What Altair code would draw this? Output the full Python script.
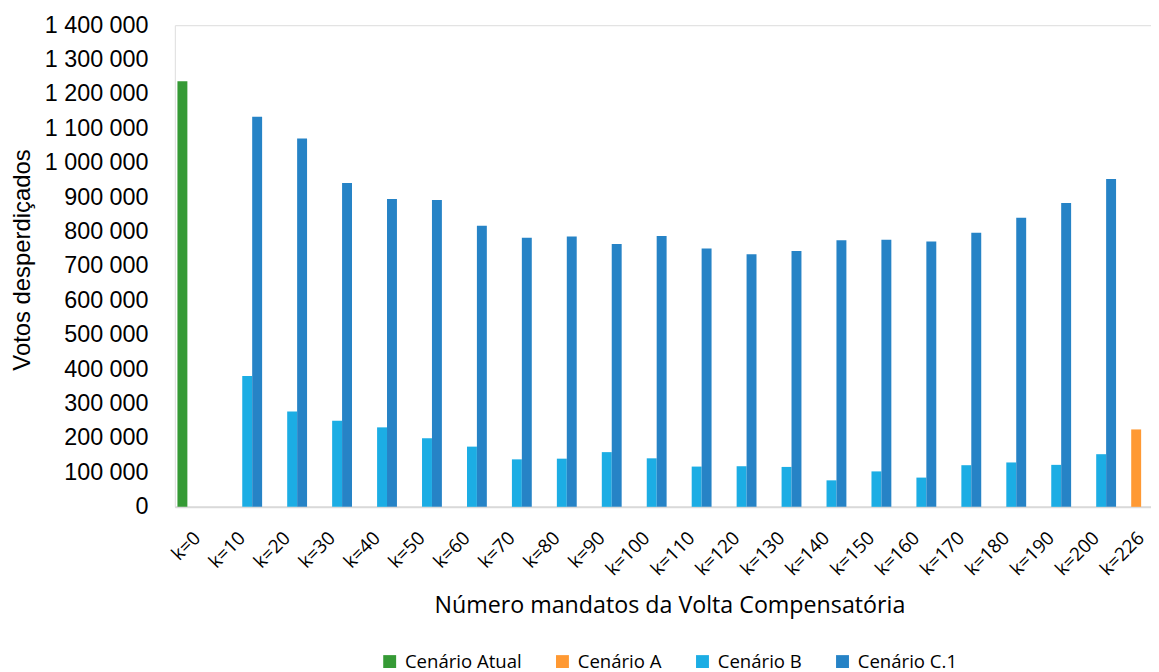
import altair as alt
import pandas as pd

# ---- data ----
categories = ["k=0", "k=10", "k=20", "k=30", "k=40", "k=50", "k=60", "k=70", "k=80",
              "k=90", "k=100", "k=110", "k=120", "k=130", "k=140", "k=150", "k=160",
              "k=170", "k=180", "k=190", "k=200", "k=226"]
series_names = ["Cenário Atual", "Cenário A", "Cenário B", "Cenário C.1"]
series_colors = ["#359A35", "#FF9933", "#1CADE4", "#2683C6"]

atual_category = ["k=0"]
atual_values = [1237000]

a_category = ["k=226"]
a_values = [225000]

bc_categories = categories[1:21]
b_values = [380000, 277000, 250000, 231000, 199000, 175000, 138000, 140000, 159000, 141000,
            117000, 118000, 116000, 77000, 103000, 85000, 121000, 129000, 122000, 153000]
c1_values = [1134000, 1071000, 941000, 895000, 892000, 817000, 782000, 786000, 764000, 787000,
             751000, 734000, 744000, 775000, 776000, 771000, 797000, 840000, 883000, 953000]

y_ticks = [0, 100000, 200000, 300000, 400000, 500000, 600000, 700000, 800000, 900000,
           1000000, 1100000, 1200000, 1300000, 1400000]

rows = []
for c, v in zip(atual_category, atual_values):
    rows.append({"category": c, "series": "Cenário Atual", "value": v})
for c, v in zip(a_category, a_values):
    rows.append({"category": c, "series": "Cenário A", "value": v})
for c, v in zip(bc_categories, b_values):
    rows.append({"category": c, "series": "Cenário B", "value": v})
for c, v in zip(bc_categories, c1_values):
    rows.append({"category": c, "series": "Cenário C.1", "value": v})
df = pd.DataFrame(rows)

title_font = "Open Sans"
num_font = "Liberation Sans"

chart = alt.Chart(df).mark_bar().encode(
    x=alt.X(
        "category:N",
        sort=categories,
        scale=alt.Scale(domain=categories, range=[0, 995.7], paddingInner=0.116, paddingOuter=0.058),
        axis=alt.Axis(
            title="Número mandatos da Volta Compensatória",
            labelAngle=-45,
            labelAlign="right",
            labelBaseline="middle",
            labelPadding=28,
            labelFont=title_font,
            labelFontSize=19,
            labelColor="#000000",
            ticks=False,
            tickSize=0,
            domainColor="#D9D9D9",
            domainWidth=2,
            titleFont=title_font,
            titleFontSize=23.4,
            titleFontWeight="normal",
            titleColor="#000000",
            titleX=498,
            titleY=106,
            titleAlign="center",
            titleBaseline="alphabetic",
        ),
    ),
    xOffset=alt.XOffset(
        "series:N",
        scale=alt.Scale(domain=series_names, paddingInner=0, paddingOuter=0),
    ),
    y=alt.Y(
        "value:Q",
        scale=alt.Scale(domain=[0, 1400000], nice=False),
        axis=alt.Axis(
            values=y_ticks,
            title="Votos desperdiçados",
            labelExpr="replace(format(datum.value, ','), regexp(',', 'g'), ' ')",
            labelFont=num_font,
            labelFontSize=23.5,
            labelColor="#000000",
            labelPadding=27,
            ticks=False,
            tickSize=0,
            domain=False,
            grid=False,
            titleFont=num_font,
            titleFontSize=24,
            titleFontWeight="normal",
            titleColor="#000000",
            titleAngle=270,
            titleX=-153.5,
            titleY=236,
            titleAlign="center",
            titleBaseline="middle",
        ),
    ),
    color=alt.Color(
        "series:N",
        scale=alt.Scale(domain=series_names, range=series_colors),
        legend=alt.Legend(
            title=None,
            orient="none",
            direction="horizontal",
            legendX=207,
            legendY=631,
            symbolType="square",
            symbolSize=169,
            symbolStrokeWidth=0,
            labelFont=title_font,
            labelFontSize=18.7,
            labelColor="#000000",
            labelOffset=6,
            columnPadding=31,
            padding=0,
        ),
    ),
).properties(
    width=983,
    height=485,
    autosize=alt.AutoSizeParams(type="none"),
    padding={"left": 168, "top": 15, "right": 0, "bottom": 164},
).configure_view(
    stroke="#000000",
    strokeWidth=1.3,
).configure(background="white")

chart.save("out.html", embed_options={"renderer": "svg", "actions": False})
